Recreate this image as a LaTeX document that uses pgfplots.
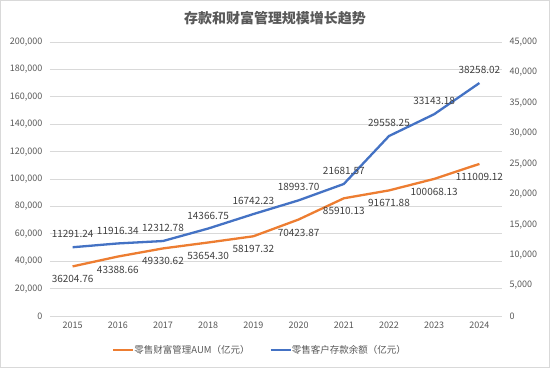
\documentclass[border=0pt]{standalone}
\usepackage{pgfplots}
\pgfplotsset{compat=1.18}
\usepackage{pgfplotstable}
\usepackage{fontspec}
\setmainfont{Noto Sans CJK SC}
\definecolor{cOr}{HTML}{ED7D31}
\definecolor{cBl}{HTML}{4472C4}
\definecolor{cTx}{HTML}{595959}
\definecolor{cLb}{HTML}{404040}
\definecolor{cGr}{HTML}{D9D9D9}
\pgfplotstableread{
x y lab
0 36204.76 36204.76
1 43388.66 43388.66
2 49330.62 49330.62
3 53654.30 53654.30
4 58197.32 58197.32
5 70423.87 70423.87
6 85910.13 85910.13
7 91671.88 91671.88
8 100068.13 100068.13
9 111009.12 111009.12
}\aum
\pgfplotstableread{
x y lab
0 11291.24 11291.24
1 11916.34 11916.34
2 12312.78 12312.78
3 14366.75 14366.75
4 16742.23 16742.23
5 18993.70 18993.70
6 21681.57 21681.57
7 29558.25 29558.25
8 33143.18 33143.18
9 38258.02 38258.02
}\dep
\begin{document}
\begin{tikzpicture}
\useasboundingbox (0,0) rectangle (550pt,368pt);
\fill[white] (0,0) rectangle (550pt,368pt);
\draw[cGr, line width=0.8pt] (0.5pt,0.5pt) rectangle (549.5pt,367.5pt);
\node[font=\fontsize{14}{16}\selectfont\bfseries, text=cTx] at (275pt,350pt) {存款和财富管理规模增长趋势};
\pgfplotsset{
  common/.style={
    at={(50pt,52pt)}, anchor=south west,
    scale only axis, width=452pt, height=274pt,
    xmin=-0.5, xmax=9.5,
    axis line style={draw=none},
    tick style={draw=none},
    ticklabel style={font=\fontsize{9}{10}\selectfont, text=cTx},
    scaled y ticks=false,
    clip=false,
  }
}
\begin{axis}[common,
  ymin=0, ymax=200000, ytick={0,20000,40000,60000,80000,100000,120000,140000,160000,180000,200000},
  yticklabels={0,{20,000},{40,000},{60,000},{80,000},{100,000},{120,000},{140,000},{160,000},{180,000},{200,000}},
  ymajorgrids, grid style={cGr, line width=0.8pt},
  yticklabel style={xshift=-4pt},
  xtick={0,...,9},
  xticklabels={2015,2016,2017,2018,2019,2020,2021,2022,2023,2024},
  xticklabel style={yshift=-2pt},
]
\addplot[cOr, line width=2.3pt, no markers,
  nodes near coords, point meta=explicit symbolic,
  every node near coord/.style={anchor=center, yshift=-13pt, font=\fontsize{10}{12}\selectfont, text=cLb}]
  table[x=x, y=y, meta=lab] {\aum};
\end{axis}
\begin{axis}[common,
  ymin=0, ymax=45000, ytick={0,5000,10000,15000,20000,25000,30000,35000,40000,45000},
  yticklabels={0,{5,000},{10,000},{15,000},{20,000},{25,000},{30,000},{35,000},{40,000},{45,000}},
  axis y line*=right,
  yticklabel style={xshift=4pt},
  xtick=\empty,
  legend style={at={(0.4646,-0.124)}, anchor=center, draw=none, fill=none,
    font=\fontsize{9.5}{11}\selectfont, text=cTx, legend columns=2,
    /tikz/every even column/.append style={column sep=18pt},
    /tikz/every odd column/.append style={column sep=-2pt}},
  legend image code/.code={\draw[#1] (0pt,0pt) -- (20pt,0pt);},
]
\addlegendimage{cOr, line width=2.3pt}
\addlegendentry{零售财富管理AUM（亿元）}
\addplot[cBl, line width=2.3pt, no markers,
  nodes near coords, point meta=explicit symbolic,
  every node near coord/.style={anchor=center, yshift=13pt, font=\fontsize{10}{12}\selectfont, text=cLb}]
  table[x=x, y=y, meta=lab] {\dep};
\addlegendentry{零售客户存款余额（亿元）}
\end{axis}
\end{tikzpicture}
\end{document}
